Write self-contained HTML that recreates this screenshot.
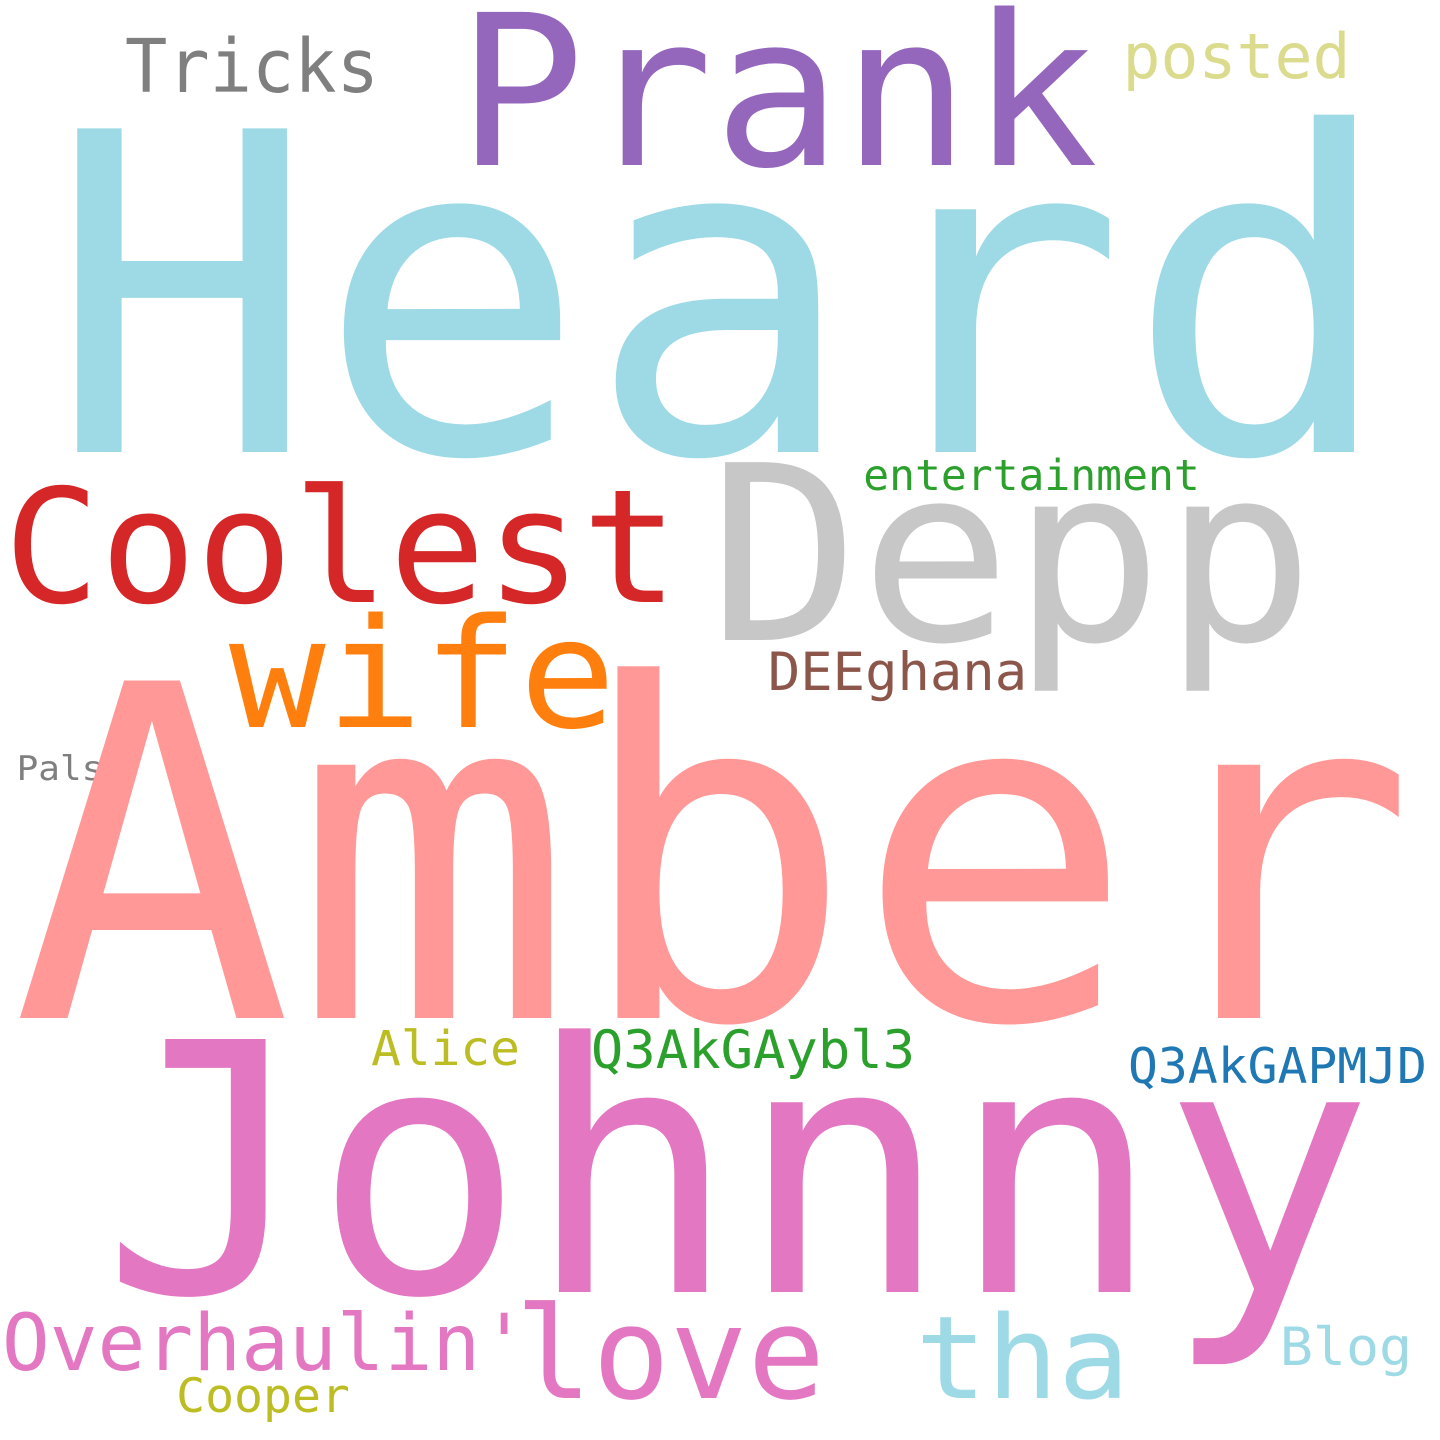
<!DOCTYPE html>
<html><head><meta charset="utf-8"><style>
html,body{margin:0;padding:0;background:#fff;}
svg{display:block;}
text{font-family:"DejaVu Sans Mono","Liberation Mono",monospace;}
</style></head><body>
<svg id="cloud" width="1440" height="1440" viewBox="0 0 1440 1440" xmlns="http://www.w3.org/2000/svg">
<rect width="1440" height="1440" fill="#ffffff"/>
</svg>
<script>
const words = ["Heard","Prank","Tricks","posted","Depp","Coolest","entertainment","wife","DEEghana","Pals","Amber","Alice","Q3AkGAybl3","Q3AkGAPMJD","Johnny","Overhaulin'","love","tha","Blog","Cooper"];
const sizes = [444,210,74,62,244,158,43,152,53,34,463,48,53,49,347,78,128,115,53,47];
const colors = ["#9edae5","#9467bd","#7f7f7f","#dbdb8d","#c7c7c7","#d62728","#2ca02c","#ff7f0e","#8c564b","#7f7f7f","#ff9896","#bcbd22","#2ca02c","#1f77b4","#e377c2","#e377c2","#e377c2","#9edae5","#9edae5","#bcbd22"];
const lefts = [65,465,128,1125,718,10,865,235,770,18,30,373,593,1130,115,5,520,920,1282,178];
const rights = [1378,1090,376,1348,1305,672,1198,610,1025,102,1398,518,913,1425,1360,525,820,1125,1410,348];
const ys = [452,165,92,78,640,602,490,727,690,780,1018,1065,1068,1083,1292,1370,1398,1398,1365,1412];
const svg = document.getElementById('cloud');
for (let i = 0; i < words.length; i++) {
  const t = document.createElementNS('http://www.w3.org/2000/svg','text');
  const b = 0.04 * sizes[i];
  t.setAttribute('x', lefts[i] - b);
  t.setAttribute('y', ys[i]);
  t.setAttribute('font-size', sizes[i]);
  t.setAttribute('fill', colors[i]);
  t.setAttribute('textLength', rights[i] - lefts[i] + 2 * b);
  t.setAttribute('lengthAdjust', 'spacingAndGlyphs');
  t.textContent = words[i];
  
  
  svg.appendChild(t);
}
</script>
</body></html>
